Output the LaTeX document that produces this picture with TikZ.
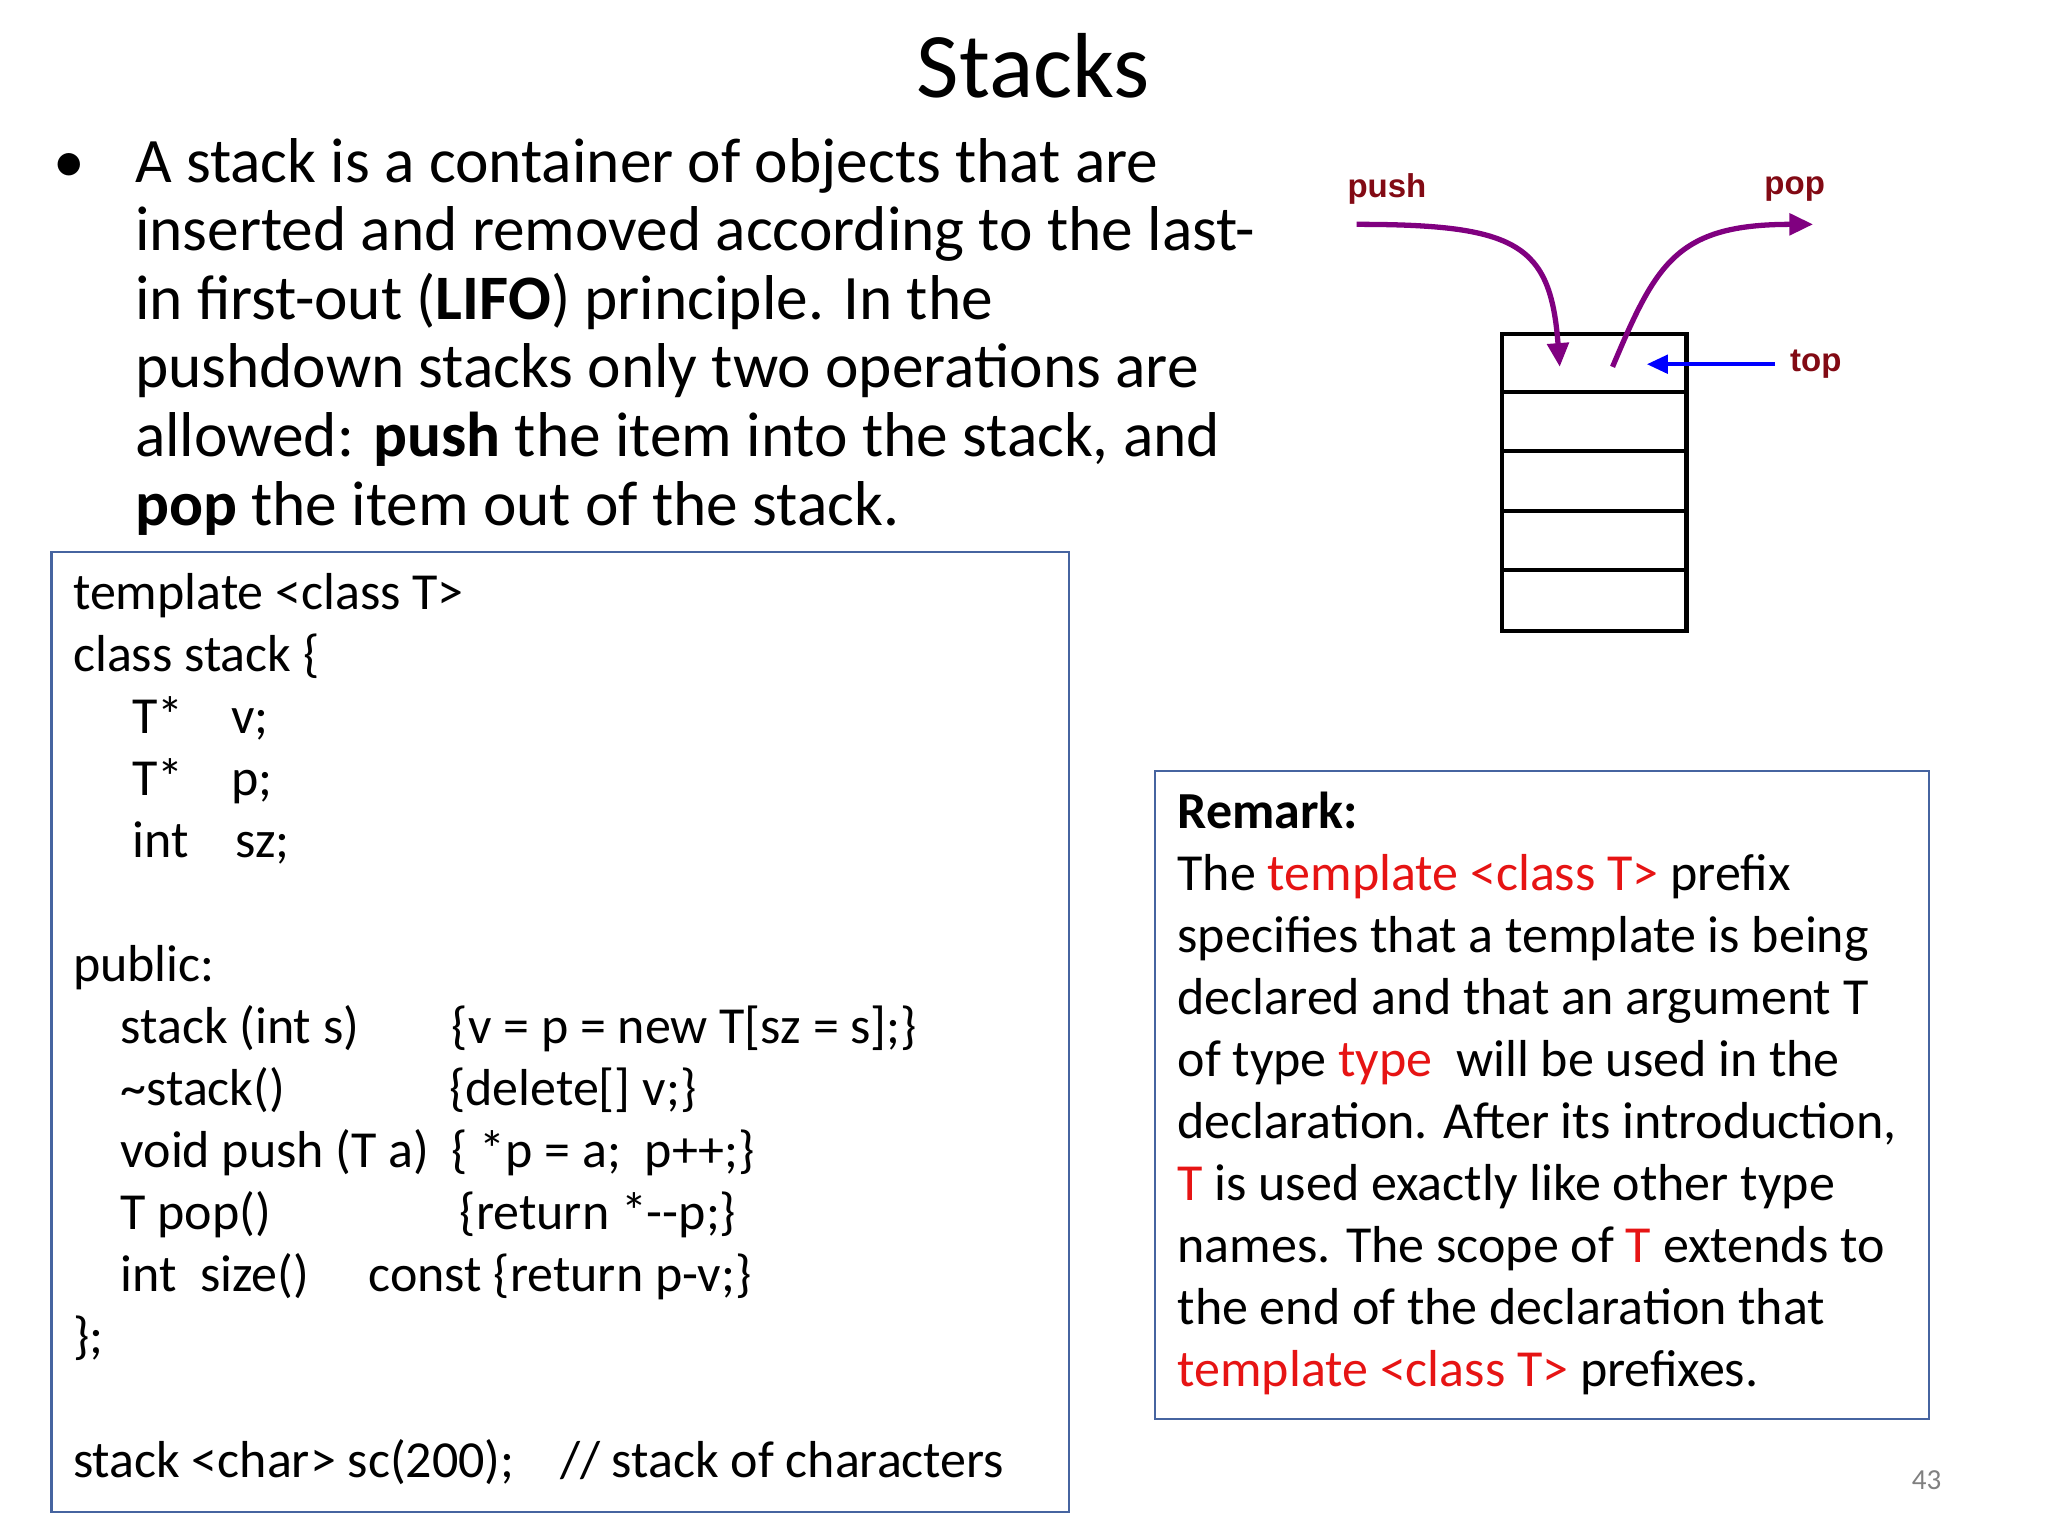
\documentclass[tikz,border=0pt]{standalone}
\usepackage{fontspec}
\setmainfont{Carlito}
\newfontfamily\arialf{Liberation Sans}
\usetikzlibrary{arrows.meta}
\definecolor{boxblue}{RGB}{70,100,160}
\definecolor{rmk}{RGB}{230,20,20}
\definecolor{lbl}{RGB}{130,10,20}
\definecolor{purp}{RGB}{128,0,128}
\tikzset{
  codet/.style={anchor=base west,inner sep=0pt,font=\fontsize{19.7pt}{22pt}\selectfont},
  bult/.style={anchor=base west,inner sep=0pt,font=\fontsize{24pt}{26pt}\selectfont},
  frame/.style={draw=boxblue,line width=0.8pt},
  lab/.style={font=\arialf\bfseries\fontsize{12.5pt}{14pt}\selectfont,text=lbl,inner sep=0pt},
  cell/.style={draw=black,line width=1.6pt},
  parrow/.style={draw=purp,line width=2pt,-{Triangle[length=9pt,width=8pt]}}
}
\begin{document}
\begin{tikzpicture}[x=0.5pt,y=-0.5pt]
\useasboundingbox (0,0) rectangle (1552,1164);
\node[font=\fontsize{35pt}{40pt}\selectfont,inner sep=0pt] (title) at (783,50) {Stacks};
% bullet
\node[bult] (bul) at (40,138) {•};
\node[bult] (b1) at (102,138) {A stack is a container of objects that are};
\node[bult] (b2) at (102,190) {inserted and removed according to the last-};
\node[bult] (b3) at (102,242) {in first-out (\textbf{LIFO}) principle. In the};
\node[bult] (b4) at (102,294) {pushdown stacks only two operations are};
\node[bult] (b5) at (102,346) {allowed: \textbf{push} the item into the stack, and};
\node[bult] (b6) at (102,398) {\textbf{pop} the item out of the stack.};
% code box
\draw[frame] (39,418) rectangle (810,1146);
\node[codet] (c1) at (55,462) {template <class T>};
\node[codet] (c2) at (55,509) {class stack \{};
\node[codet] (c3a) at (100,556) {T*};
\node[codet] (c3b) at (175,556) {v;};
\node[codet] (c4a) at (100,603) {T*};
\node[codet] (c4b) at (175,603) {p;};
\node[codet] (c5a) at (100,650) {int};
\node[codet] (c5b) at (178,650) {sz;};
\node[codet] (c6) at (55,744) {public:};
\node[codet] (c7a) at (91,791) {stack (int s)};
\node[codet] (c7b) at (342,791) {\{v = p = new T[sz = s];\}};
\node[codet] (c8a) at (91,838) {\char`\~stack()};
\node[codet] (c8b) at (340,838) {\{delete[] v;\}};
\node[codet] (c9a) at (91,885) {void push (T a)};
\node[codet] (c9b) at (342,885) {\{ *p = a;\ \ p++;\}};
\node[codet] (c10a) at (91,932) {T pop()};
\node[codet] (c10b) at (348,932) {\{return *-{}-p;\}};
\node[codet] (c11a) at (91,979) {int\ \ size()};
\node[codet] (c11b) at (279,979) {const \{return p-v;\}};
\node[codet] (c12) at (55,1026) {\};};
\node[codet] (c13a) at (55,1120) {stack <char> sc(200);};
\node[codet] (c13b) at (424,1120) {// stack of characters};
% remark box
\draw[frame] (875,584) rectangle (1462,1075);
\node[codet] (r1) at (892,628) {\textbf{Remark:}};
\node[codet] (r2) at (892,675) {The \textcolor{rmk}{template <class T>} prefix};
\node[codet] (r3) at (892,722) {specifies that a template is being};
\node[codet] (r4) at (892,769) {declared and that an argument T};
\node[codet] (r5) at (892,816) {of type \textcolor{rmk}{type}\ \ will be used in the};
\node[codet] (r6) at (892,863) {declaration. After its introduction,};
\node[codet] (r7) at (892,910) {\textcolor{rmk}{T} is used exactly like other type};
\node[codet] (r8) at (892,957) {names. The scope of \textcolor{rmk}{T} extends to};
\node[codet] (r9) at (892,1004) {the end of the declaration that};
\node[codet] (r10) at (892,1051) {\textcolor{rmk}{template <class T>} prefixes.};
\node[text=gray,font=\fontsize{11pt}{13pt}\selectfont,inner sep=0pt] (pg) at (1460,1122) {43};
% stack diagram
\draw[cell] (1138,253) rectangle (1278,478);
\foreach \yy in {297,342,387,432} \draw[cell] (1138,\yy) -- (1278,\yy);
\node[lab] (push) at (1051,143) {push};
\node[lab] (pop) at (1360,143) {pop};
\node[lab] (top) at (1376,276) {top};
\coordinate (ps) at (1028,170);
\coordinate (pe) at (1182,278);
\coordinate (os) at (1222,278);
\coordinate (oe) at (1374,170);
\coordinate (ts) at (1345,276);
\coordinate (te) at (1248,276);
\draw[parrow] (ps) .. controls (1150,170) and (1175,185) .. (pe);
\draw[parrow] (os) .. controls (1255,200) and (1270,170) .. (oe);
\draw[blue,line width=1.5pt,-{Triangle[length=8pt,width=7pt]}] (ts) -- (te);
\end{tikzpicture}
\end{document}
